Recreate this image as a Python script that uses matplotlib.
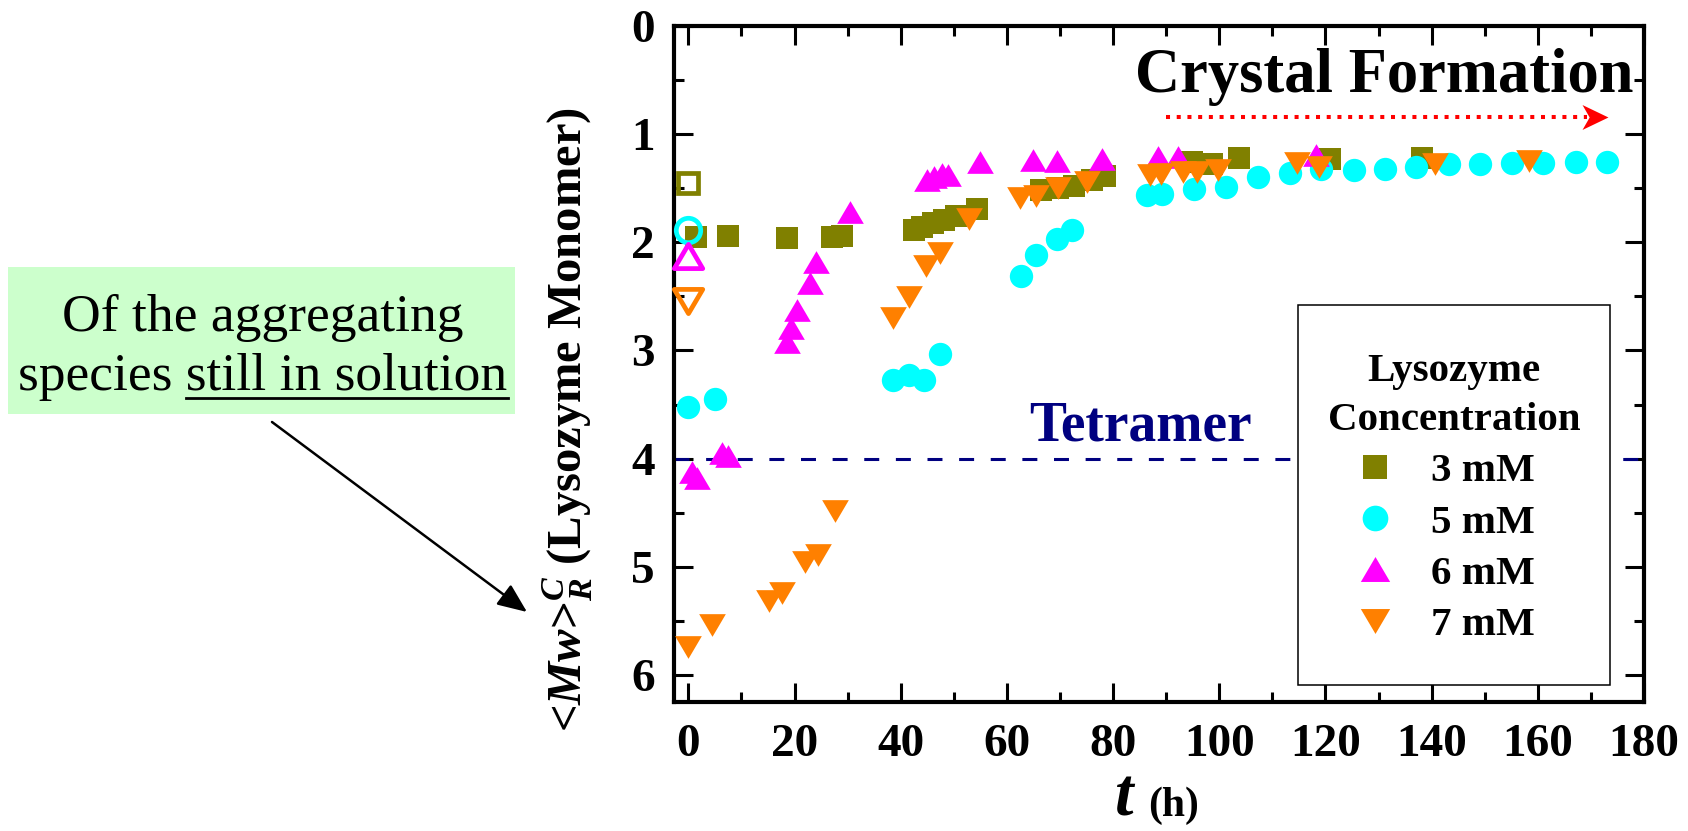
import matplotlib
matplotlib.use("Agg")
import matplotlib.pyplot as plt
from matplotlib.path import Path
from matplotlib.patches import Rectangle, FancyArrowPatch
from matplotlib.lines import Line2D
from matplotlib.ticker import MultipleLocator

plt.rcParams['font.family'] = ['Liberation Serif', 'DejaVu Serif']
plt.rcParams['font.weight'] = 'bold'
plt.rcParams['mathtext.fontset'] = 'custom'
plt.rcParams['mathtext.rm'] = 'Liberation Serif:bold'
plt.rcParams['mathtext.it'] = 'Liberation Serif:italic:bold'
plt.rcParams['mathtext.bf'] = 'Liberation Serif:bold'

# ---------------- data ----------------
series_labels = ['3 mM', '5 mM', '6 mM', '7 mM']
series_colors = ['#808000', '#00FFFF', '#FF00FF', '#FF8000']

# initial values (open symbols at t = 0)
t_initial = [0, 0, 0, 0]
mw_initial = [1.45, 1.89, 2.13, 2.54]

t_3mM = [1.4, 7.5, 18.5, 27.0, 29.0, 42.5, 44.0, 46.0, 48.2, 50.5, 54.4,
         66.5, 69.7, 72.6, 76.0, 78.4, 94.8, 98.7, 103.8, 120.8, 138.2]
mw_3mM = [1.95, 1.94, 1.96, 1.95, 1.94, 1.89, 1.86, 1.82, 1.79, 1.76, 1.69,
          1.52, 1.50, 1.48, 1.42, 1.39, 1.26, 1.28, 1.22, 1.23, 1.22]

t_5mM = [0.0, 5.1, 38.5, 41.5, 44.4, 47.4, 62.7, 65.4, 69.4, 72.2, 86.4,
         89.3, 95.3, 101.3, 107.3, 113.3, 119.2, 125.3, 131.2, 137.1, 143.2,
         149.2, 155.1, 161.0, 167.2, 173.1]
mw_5mM = [3.52, 3.45, 3.27, 3.23, 3.27, 3.03, 2.31, 2.12, 1.97, 1.89, 1.56,
          1.55, 1.51, 1.49, 1.40, 1.36, 1.32, 1.33, 1.32, 1.30, 1.28,
          1.28, 1.27, 1.27, 1.26, 1.26]

t_6mM = [0.7, 1.6, 6.3, 7.5, 18.5, 19.4, 20.5, 23.0, 24.0, 30.5, 45.0, 46.3,
         47.8, 49.0, 54.9, 64.9, 69.4, 77.9, 88.4, 92.3, 118.3]
mw_6mM = [4.12, 4.18, 3.95, 3.98, 2.92, 2.79, 2.63, 2.38, 2.18, 1.72, 1.42, 1.40,
          1.37, 1.38, 1.26, 1.24, 1.25, 1.23, 1.21, 1.21, 1.19]

t_7mM = [0.0, 4.4, 15.1, 17.6, 21.9, 24.5, 27.7, 38.6, 41.5, 44.8, 47.4, 52.9,
         62.5, 65.4, 69.6, 75.0, 86.9, 89.1, 93.2, 95.9, 99.8, 114.6, 118.8,
         140.7, 158.3]
mw_7mM = [5.74, 5.54, 5.32, 5.24, 4.96, 4.89, 4.48, 2.70, 2.51, 2.22, 2.10, 1.78,
          1.59, 1.57, 1.50, 1.44, 1.38, 1.37, 1.35, 1.35, 1.33, 1.27, 1.30,
          1.28, 1.25]

tetramer_level = 4
crystal_arrow_start, crystal_arrow_end, crystal_arrow_level = 90.0, 173.2, 0.84

x_ticks = list(range(0, 181, 20))
y_ticks = list(range(0, 7))

# ---------------- markers ----------------
tri_up = Path([(0, 0.85), (-1, -0.85), (1, -0.85), (0, 0.85)],
              [Path.MOVETO, Path.LINETO, Path.LINETO, Path.CLOSEPOLY])
tri_down = Path([(0, -0.85), (-1, 0.85), (1, 0.85), (0, -0.85)],
                [Path.MOVETO, Path.LINETO, Path.LINETO, Path.CLOSEPOLY])
stealth = Path([(1, 0), (-1, 0.96), (-0.45, 0), (-1, -0.96), (1, 0)],
               [Path.MOVETO, Path.LINETO, Path.LINETO, Path.LINETO, Path.CLOSEPOLY])

markers = ['s', 'o', tri_up, tri_down]
filled_ms = [15.2, 16.8, 19.2, 19.2]
open_ms = [14.8, 17.6, 20.5, 20.5]

# ---------------- figure ----------------
W, H = 1688, 831
fig = plt.figure(figsize=(W / 100, H / 100), dpi=100)
ax = fig.add_axes([674 / W, 1 - 702 / H, 970 / W, 676 / H])

series = [(t_3mM, mw_3mM), (t_5mM, mw_5mM), (t_6mM, mw_6mM), (t_7mM, mw_7mM)]
handles = []
for i, (tt, mw) in enumerate(series):
    h, = ax.plot(tt, mw, linestyle='none', marker=markers[i], ms=filled_ms[i],
                 mfc=series_colors[i], mec=series_colors[i], mew=0,
                 label=series_labels[i], zorder=3 + i)
    handles.append(h)
    ax.plot([t_initial[i]], [mw_initial[i]], linestyle='none', marker=markers[i],
            ms=open_ms[i], mfc='none', mec=series_colors[i], mew=3.4,
            zorder=7 + i, clip_on=False)

# tetramer reference line
ax.axhline(tetramer_level, color='#000080', lw=2.2,
           linestyle=(0, (4.9, 5.45)), zorder=2)
ax.text(64.2, 3.83, 'Tetramer', color='#000080', fontsize=40,
        fontweight='bold', ha='left', va='baseline')

# crystal formation arrow
ax.plot([crystal_arrow_start, crystal_arrow_end - 4.0],
        [crystal_arrow_level, crystal_arrow_level], color='red', lw=2.9,
        linestyle=(0, (1.0, 1.66)), dash_capstyle='butt')
ax.plot([crystal_arrow_end - 2.45], [crystal_arrow_level], marker=stealth,
        ms=18.7, color='red', mew=0, linestyle='none')
ax.text(178.0, 0.61, 'Crystal Formation', fontsize=45, fontweight='bold',
        ha='right', va='baseline')

# axes styling
ax.set_xlim(-2.7, 180)
ax.set_ylim(6.25, 0)
ax.set_xticks(x_ticks)
ax.set_yticks(y_ticks)
ax.xaxis.set_minor_locator(MultipleLocator(10))
ax.yaxis.set_minor_locator(MultipleLocator(0.5))
ax.tick_params(which='both', direction='in', top=True, right=True, width=2.2)
ax.tick_params(which='major', length=13.5)
ax.tick_params(which='minor', length=7)
ax.tick_params(axis='y', labelsize=34, pad=14)
ax.tick_params(axis='x', labelsize=34, pad=16)
for s in ax.spines.values():
    s.set_linewidth(3)

# axis titles
ax.text(-0.110, 0.418, r'<$Mw$>$_R^C$ (Lysozyme Monomer)', transform=ax.transAxes,
        rotation=90, ha='center', va='center', fontsize=35, fontweight='bold')
ax.text(0.474, -0.168, 't', transform=ax.transAxes, ha='right', va='baseline',
        fontsize=48, fontweight='bold', fontstyle='italic')
ax.text(0.489, -0.168, '(h)', transform=ax.transAxes, ha='left', va='baseline',
        fontsize=30, fontweight='bold')

# legend
ax.add_patch(Rectangle((0.643, 0.025), 0.322, 0.562, transform=ax.transAxes,
                       facecolor='white', edgecolor='black', lw=1.1, zorder=20))
leg = ax.legend(handles=handles, loc='upper center', bbox_to_anchor=(0.804, 0.517),
                frameon=False, borderpad=0, borderaxespad=0, handlelength=0.1,
                handletextpad=1.32, labelspacing=0.33, markerscale=1.1,
                title='Lysozyme\nConcentration',
                prop={'size': 29.5, 'weight': 'bold'},
                title_fontproperties={'size': 29.5, 'weight': 'bold'})
leg.get_title().set_multialignment('center')
leg.get_title().set_linespacing(1.45)
leg.set_zorder(21)

# side note box
box = Rectangle((8 / W, 1 - 414 / H), (515 - 8) / W, (414 - 267) / H,
                transform=fig.transFigure, facecolor='#CCFFCC', edgecolor='none')
fig.patches.append(box)
cx = 263 / W
fig.text(cx, 1 - 331 / H, 'Of the aggregating', ha='center', va='baseline',
         fontsize=38.5, fontweight='normal')
line2 = fig.text(cx, 1 - 390 / H, 'species still in solution', ha='center',
                 va='baseline', fontsize=38.5, fontweight='normal')
renderer = fig.canvas.get_renderer()
full_w = line2.get_window_extent(renderer).width
probe = fig.text(0, 0, 'still in solution', fontsize=38.5, fontweight='normal')
sub_w = probe.get_window_extent(renderer).width
probe.remove()
x_right = cx * W + full_w / 2
y_ul = H - 398
fig.add_artist(Line2D([(x_right - sub_w) / W, x_right / W], [y_ul / H, y_ul / H],
                      transform=fig.transFigure, color='black', lw=2.0))

fig.add_artist(FancyArrowPatch((272 / W, 1 - 422 / H), (527 / W, 1 - 612 / H),
                               transform=fig.transFigure,
                               arrowstyle='-|>,head_length=0.9,head_width=0.38',
                               mutation_scale=20, color='black', lw=1.8,
                               shrinkA=0, shrinkB=0))

fig.savefig('out.png', dpi=100)
